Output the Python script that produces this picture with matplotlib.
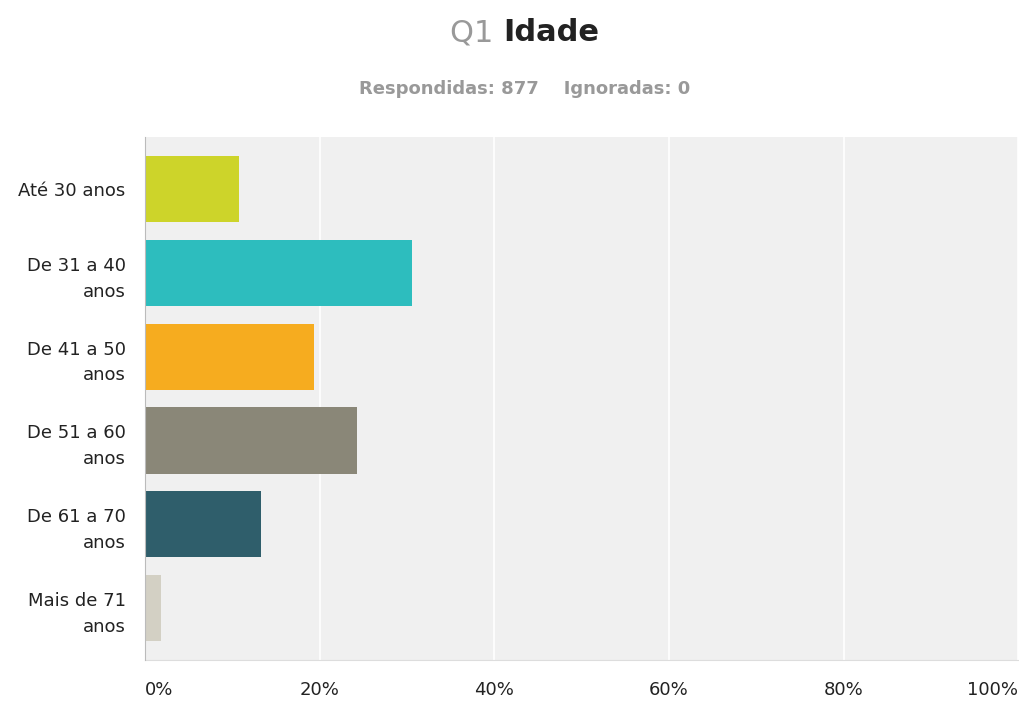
import numpy as np
import matplotlib.pyplot as plt

categorias = ['Até 30 anos', 'De 31 a 40\nanos', 'De 41 a 50\nanos',
              'De 51 a 60\nanos', 'De 61 a 70\nanos', 'Mais de 71\nanos']
percentuais = [10.72, 30.56, 19.38, 24.29, 13.23, 1.82]
cores = ['#cdd42a', '#2dbdbe', '#f6ac1f', '#8a8778', '#2f5e6b', '#d3d0c4']
ticks = [0, 20, 40, 60, 80, 100]
tick_labels = ['0%', '20%', '40%', '60%', '80%', '100%']

plt.rcParams['font.family'] = ['DejaVu Sans']

fig = plt.figure(figsize=(10.19, 7.02), dpi=100)
ax = fig.add_axes([0.1423, 0.0598, 0.857, 0.745])
ax.set_facecolor('#f0f0f0')

y = np.arange(len(categorias))
ax.barh(y, percentuais, height=0.79, color=cores, zorder=3)
ax.set_ylim(len(categorias) - 0.38, -0.62)
ax.set_xlim(0, 100)

ax.set_yticks(y)
ax.set_yticklabels(categorias, fontsize=13, color='#222222', ha='right',
                   multialignment='right', linespacing=1.55)
ax.set_xticks(ticks)
ax.set_xticklabels(tick_labels, fontsize=13, color='#222222')
xl = ax.get_xticklabels()
xl[0].set_ha('left')
xl[-1].set_ha('right')
ax.tick_params(axis='both', length=0)
ax.tick_params(axis='x', pad=15)
ax.tick_params(axis='y', pad=14)

ax.grid(axis='x', color='white', linewidth=1.2, zorder=1)
for s in ['top', 'right']:
    ax.spines[s].set_visible(False)
ax.spines['left'].set_color('#bbbbbb')
ax.spines['bottom'].set_color('#dddddd')
ax.spines['left'].set_zorder(4)

fig.text(0.494, 0.953, 'Q1 ', fontsize=22, color='#999999', ha='right', va='center')
fig.text(0.494, 0.953, 'Idade', fontsize=22, color='#222222', ha='left',
         va='center', fontweight='bold')
fig.text(0.515, 0.873, 'Respondidas: 877    Ignoradas: 0', fontsize=13,
         color='#999999', fontweight='bold', ha='center', va='center')

fig.savefig('out.png', dpi=100)
